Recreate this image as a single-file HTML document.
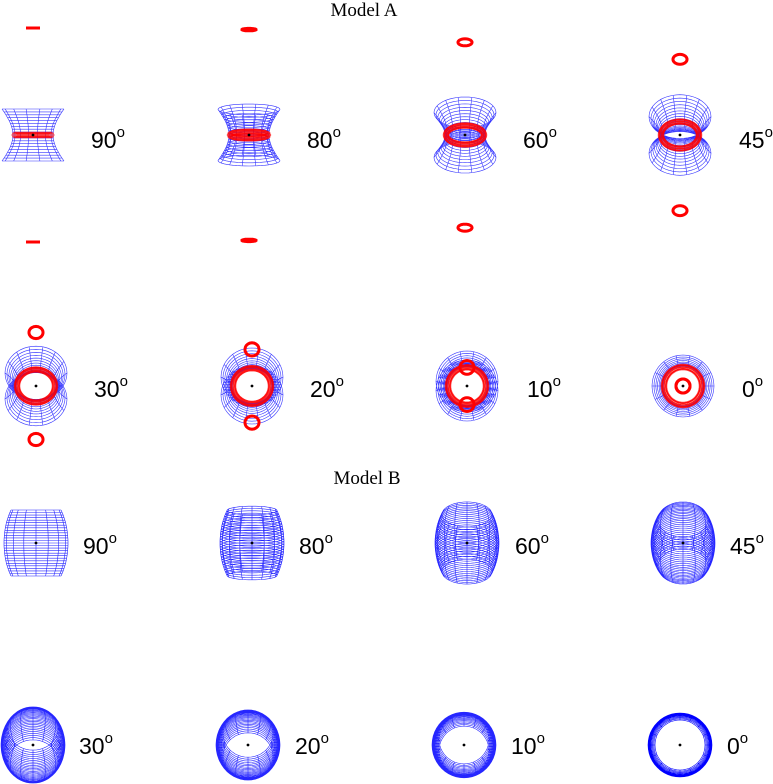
<!DOCTYPE html>
<html><head><meta charset="utf-8">
<style>
html,body{margin:0;padding:0;background:#fff;}
svg{display:block;}
.lab{font-family:"Liberation Sans",sans-serif;font-size:23px;fill:#000;}
.sup{font-size:15px;}
.ttl{font-family:"Liberation Serif",serif;font-size:19px;fill:#000;}
</style></head>
<body>
<svg id="s" width="773" height="784" viewBox="0 0 773 784" xmlns="http://www.w3.org/2000/svg">
<g id="g"></g>
<text class="ttl" x="364" y="16" text-anchor="middle">Model A</text>
<text class="ttl" x="367" y="484" text-anchor="middle">Model B</text>
<text class="lab" x="91" y="148">90<tspan class="sup" dy="-11">o</tspan></text>
<text class="lab" x="307" y="148">80<tspan class="sup" dy="-11">o</tspan></text>
<text class="lab" x="523" y="148">60<tspan class="sup" dy="-11">o</tspan></text>
<text class="lab" x="739" y="148">45<tspan class="sup" dy="-11">o</tspan></text>
<text class="lab" x="94" y="397">30<tspan class="sup" dy="-11">o</tspan></text>
<text class="lab" x="310" y="397">20<tspan class="sup" dy="-11">o</tspan></text>
<text class="lab" x="527" y="397">10<tspan class="sup" dy="-11">o</tspan></text>
<text class="lab" x="742" y="397">0<tspan class="sup" dy="-11">o</tspan></text>
<text class="lab" x="83" y="554">90<tspan class="sup" dy="-11">o</tspan></text>
<text class="lab" x="299" y="554">80<tspan class="sup" dy="-11">o</tspan></text>
<text class="lab" x="515" y="554">60<tspan class="sup" dy="-11">o</tspan></text>
<text class="lab" x="730" y="554">45<tspan class="sup" dy="-11">o</tspan></text>
<text class="lab" x="79" y="754">30<tspan class="sup" dy="-11">o</tspan></text>
<text class="lab" x="295" y="754">20<tspan class="sup" dy="-11">o</tspan></text>
<text class="lab" x="511" y="754">10<tspan class="sup" dy="-11">o</tspan></text>
<text class="lab" x="727" y="754">0<tspan class="sup" dy="-11">o</tspan></text>
</svg>
<script>
var g=document.getElementById('g');var NS="http://www.w3.org/2000/svg";
function el(t,a){var e=document.createElementNS(NS,t);for(var k in a)e.setAttribute(k,a[k]);g.appendChild(e);return e;}
function proj(cx,cy,inc,x,y,z){var r=inc*Math.PI/180;return [cx+x,cy-(z*Math.sin(r)+y*Math.cos(r))];}
function surf(cx,cy,inc,rf,h,nlat,nmer,op){
  var d="";
  for(var i=0;i<=nlat;i++){var z=-h+2*h*i/nlat,r=rf(z);
    for(var k=0;k<=48;k++){var p=2*Math.PI*k/48;var q=proj(cx,cy,inc,r*Math.cos(p),r*Math.sin(p),z);d+=(k?"L":"M")+q[0].toFixed(1)+" "+q[1].toFixed(1);}}
  for(var k=0;k<nmer;k++){var p=2*Math.PI*k/nmer;
    for(var i=0;i<=30;i++){var z=-h+2*h*i/30,r=rf(z);var q=proj(cx,cy,inc,r*Math.cos(p),r*Math.sin(p),z);d+=(i?"L":"M")+q[0].toFixed(1)+" "+q[1].toFixed(1);}}
  el('path',{d:d,fill:'none',stroke:'#0000ff','stroke-width':0.6,'stroke-opacity':op});
}
function ring(cx,cy,inc,R,z,w,op){var d="";for(var k=0;k<=60;k++){var p=2*Math.PI*k/60;var q=proj(cx,cy,inc,R*Math.cos(p),R*Math.sin(p),z);d+=(k?"L":"M")+q[0].toFixed(1)+" "+q[1].toFixed(1);}
  el('path',{d:d,fill:'none',stroke:'#ff0000','stroke-width':w,'stroke-opacity':op||1});}
function torus(cx,cy,inc,R,a,w){for(var j=0;j<8;j++){var t=2*Math.PI*j/8;ring(cx,cy,inc,R+a*Math.cos(t),a*Math.sin(t),w,0.7);}}
function dot(x,y){el('circle',{cx:x,cy:y,r:1.4,fill:'#000'});}
var hyp=function(z){return 20*Math.sqrt(1+1.4*(z/26)*(z/26));};
var A=[[33,135,90],[249,135,80],[465,135,60],[680,135,45],[36,386,30],[252,386,20],[467,386,10],[683,386,0]];
A.forEach(function(a){surf(a[0],a[1],a[2],hyp,26,18,14,0.8);torus(a[0],a[1],a[2],19,2.5,1.5);ring(a[0],a[1],a[2],7,107,3);ring(a[0],a[1],a[2],7,-107,3);dot(a[0],a[1]);});
var bar=function(z){return 32*Math.sqrt(1-0.39*(z/33)*(z/33));};
var B=[[36,543,90],[252,543,80],[467,543,60],[683,543,45],[33,745,30],[248,745,20],[464,745,10],[680,745,0]];
B.forEach(function(b){surf(b[0],b[1],b[2],bar,33,26,16,b[2]==0?1:0.85);dot(b[0],b[1]);});
</script>
</body></html>
